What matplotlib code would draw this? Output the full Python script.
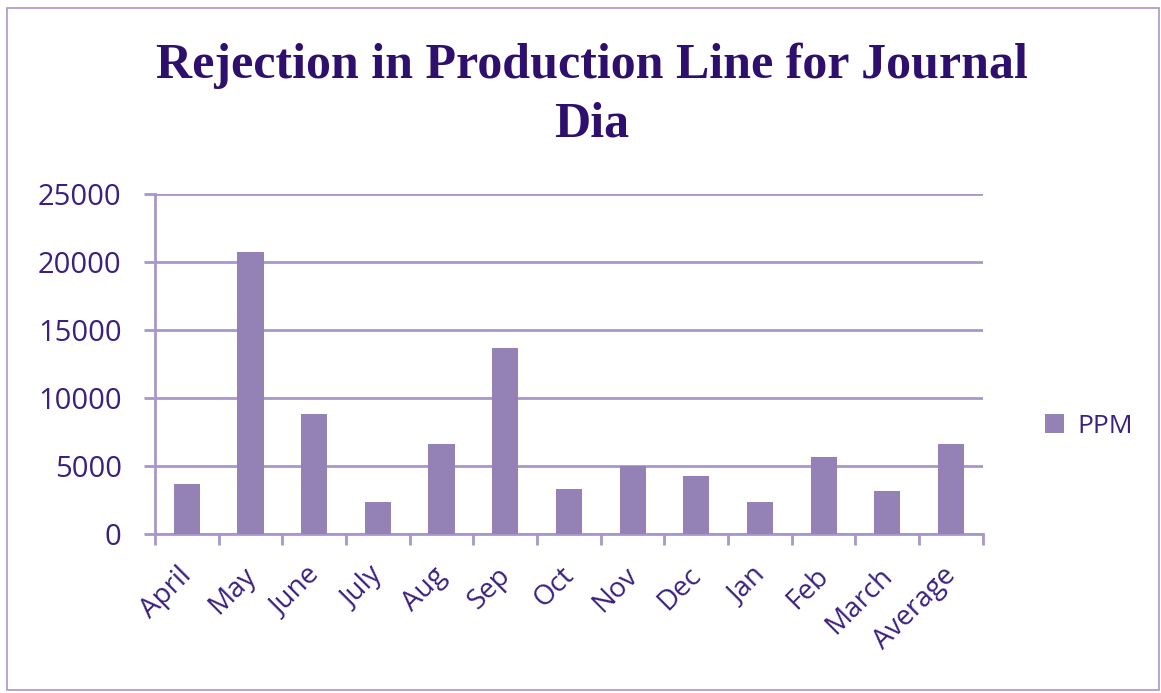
import matplotlib
matplotlib.use("Agg")
import matplotlib.pyplot as plt
import matplotlib.transforms as mtransforms
import numpy as np
from matplotlib.patches import Rectangle

categories = ["April", "May", "June", "July", "Aug", "Sep", "Oct", "Nov", "Dec", "Jan", "Feb", "March", "Average"]
ppm = [3700, 20750, 8800, 2350, 6650, 13700, 3330, 5000, 4300, 2350, 5700, 3150, 6650]
yticks = [0, 5000, 10000, 15000, 20000, 25000]

bar_color = "#9481b5"
line_color = "#a896cc"
text_color = "#3b2080"
title_color = "#2e0f6e"

fig = plt.figure(figsize=(11.61, 6.93), dpi=100)
fig.patch.set_facecolor("white")
fig.patches.append(Rectangle((0.006, 0.004), 0.992, 0.985, transform=fig.transFigure,
                             fill=False, edgecolor=line_color, linewidth=1.2))

ax = fig.add_axes([0.1335, 0.2294, 0.713, 0.4906])
x = np.arange(len(categories))
bars = ax.bar(x, ppm, width=0.41, color=bar_color, label="PPM", zorder=3)

ax.set_xlim(-0.5, len(categories) - 0.5)
ax.set_ylim(0, 25000)
ax.set_yticks(yticks)
ax.set_yticklabels([str(v) for v in yticks])
ax.yaxis.grid(True, color=line_color, linewidth=2, zorder=0)
ax.set_axisbelow(True)

for s in ["top", "right"]:
    ax.spines[s].set_visible(False)
for s in ["left", "bottom"]:
    ax.spines[s].set_color(line_color)
    ax.spines[s].set_linewidth(2)

ax.tick_params(axis="y", length=8, width=2, color=line_color, pad=16,
               labelsize=21, labelcolor=text_color)
ax.set_xticks(x)
ax.set_xticklabels(categories, rotation=45, ha="right", rotation_mode="anchor",
                   fontsize=20, color=text_color)
ax.tick_params(axis="x", which="major", length=0, pad=20)
ax.set_xticks(np.arange(-0.5, len(categories)), minor=True)
ax.tick_params(axis="x", which="minor", length=8, width=2, color=line_color)
offset = mtransforms.ScaledTranslation(-9 / 100, 0, fig.dpi_scale_trans)
for lbl in ax.get_xticklabels():
    lbl.set_transform(lbl.get_transform() + offset)
for lbl in ax.get_xticklabels() + ax.get_yticklabels():
    lbl.set_family(["Open Sans", "DejaVu Sans"])

fig.text(0.51, 0.905, "Rejection in Production Line for Journal", ha="center", va="center",
         fontsize=36, fontweight="bold", family="Liberation Serif", color=title_color)
fig.text(0.51, 0.82, "Dia", ha="center", va="center",
         fontsize=36, fontweight="bold", family="Liberation Serif", color=title_color)

leg = fig.legend(handles=[bars], labels=["PPM"], loc="center left",
                 bbox_to_anchor=(0.88, 0.385), frameon=False,
                 handlelength=0.7, handleheight=0.7, handletextpad=0.5,
                 prop={"family": "Open Sans", "size": 19})
for t in leg.get_texts():
    t.set_color(text_color)

fig.savefig("out.png", dpi=100)
